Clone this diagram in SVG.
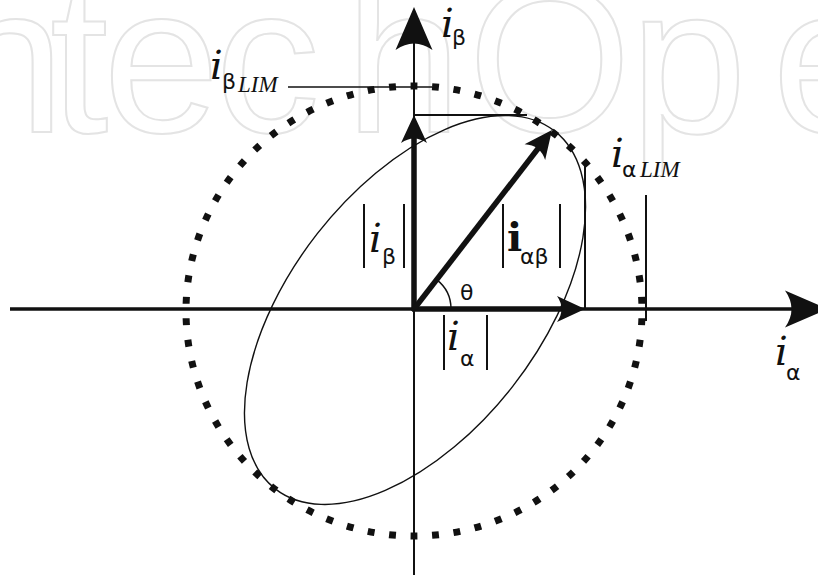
<svg xmlns="http://www.w3.org/2000/svg" xmlns:xlink="http://www.w3.org/1999/xlink" width="818" height="579" viewBox="0 0 818 579">
<style>
.wm{font-family:"Liberation Sans",Arial,sans-serif;font-size:210px;fill:none;stroke:#e4e4e4;stroke-width:2}
.mi{font-family:"DejaVu Serif","Liberation Serif",serif;font-style:italic;font-size:40px;fill:#111}
.mb{font-family:"DejaVu Serif","Liberation Serif",serif;font-weight:bold;font-size:40px;fill:#111}
.gs{font-family:"DejaVu Sans",sans-serif;font-size:22px;fill:#111}
.lim{font-family:"Liberation Serif","Times New Roman",serif;font-style:italic;font-size:23px;fill:#111}
.th{font-family:"DejaVu Sans",sans-serif;font-size:22px;fill:#111}
.ln{fill:none;stroke:#111;stroke-linecap:butt}
.bar{fill:none;stroke:#111;stroke-width:2}
.ah{fill:#111}
</style>
<defs>
<path id="ahBig" d="M0,0 L-43,-18.5 Q-30,0 -43,18.5 Z"/>
<path id="ahSmall" d="M0,0 L-28,-13 Q-19,0 -28,13 Z"/>
</defs>
<g id="watermark">
<text class="wm" x="-52 50 103 215 345 468 630 772" y="132">ntechOpe</text>
</g>
<g id="limit-circle">
<path d="M642,311 A228,225 0 1,1 186,311 A228,225 0 1,1 642,311 Z" pathLength="660" fill="none" stroke="#111" stroke-width="7" stroke-dasharray="3.2 6.8" stroke-dashoffset="6.6"/>
</g>
<g id="ellipse">
<ellipse cx="415" cy="310" rx="227" ry="124" transform="rotate(-52 415 310)" fill="none" stroke="#111" stroke-width="1.4"/>
</g>
<g id="connectors">
<path class="ln" d="M10,309 H795" stroke-width="3.5"/>
<use xlink:href="#ahBig" class="ah" transform="translate(828,309)"/>
<path class="ln" d="M414,575 V40" stroke-width="2"/>
<use xlink:href="#ahBig" class="ah" transform="translate(414,7) rotate(-90)"/>
<path class="ln" d="M414,115 H527" stroke-width="2"/>
<path class="ln" d="M585,162 V309" stroke-width="2"/>
<path class="ln" d="M288,87 H432" stroke-width="1.6"/>
<path class="ln" d="M646,195 V321" stroke-width="2"/>
<path class="ln" d="M414,311 V135" stroke-width="5.5"/>
<use xlink:href="#ahSmall" class="ah" transform="translate(414,115) rotate(-90)"/>
<path class="ln" d="M412,309 H565" stroke-width="5.5"/>
<use xlink:href="#ahSmall" class="ah" transform="translate(585,309)"/>
<path class="ln" d="M414,309 L540,146" stroke-width="5.5"/>
<use xlink:href="#ahSmall" class="ah" transform="translate(552,130) rotate(-52.3)"/>
<path class="ln" d="M451,309 A37,37 0 0,0 436.6,279.7" stroke-width="1.5"/>
</g>
<g id="label-ibeta-axis">
<text class="mi" x="441" y="37">i</text><text class="gs" x="452" y="45">β</text>
</g>
<g id="label-ibeta-lim">
<text class="mi" x="210" y="79">i</text><text class="gs" x="222" y="89">β</text><text class="lim" x="238" y="92">LIM</text>
</g>
<g id="label-ialpha-lim">
<text class="mi" x="611" y="167">i</text><text class="gs" x="622" y="177">α</text><text class="lim" x="640" y="177">LIM</text>
</g>
<g id="label-abs-ibeta">
<path class="bar" d="M364,204 V268 M404,204 V268"/>
<text class="mi" x="369" y="252">i</text><text class="gs" x="382" y="264">β</text>
</g>
<g id="label-abs-ialphabeta">
<path class="bar" d="M503,204 V268 M560,204 V268"/>
<text class="mb" x="507" y="251">i</text><text class="gs" x="520" y="264">αβ</text>
</g>
<g id="label-theta">
<text class="th" x="460" y="300">θ</text>
</g>
<g id="label-abs-ialpha">
<path class="bar" d="M444,315 V370 M487,315 V370"/>
<text class="mi" x="447" y="350">i</text><text class="gs" x="460" y="366">α</text>
</g>
<g id="label-ialpha-axis">
<text class="mi" x="775" y="365">i</text><text class="gs" x="786" y="380">α</text>
</g>
</svg>
